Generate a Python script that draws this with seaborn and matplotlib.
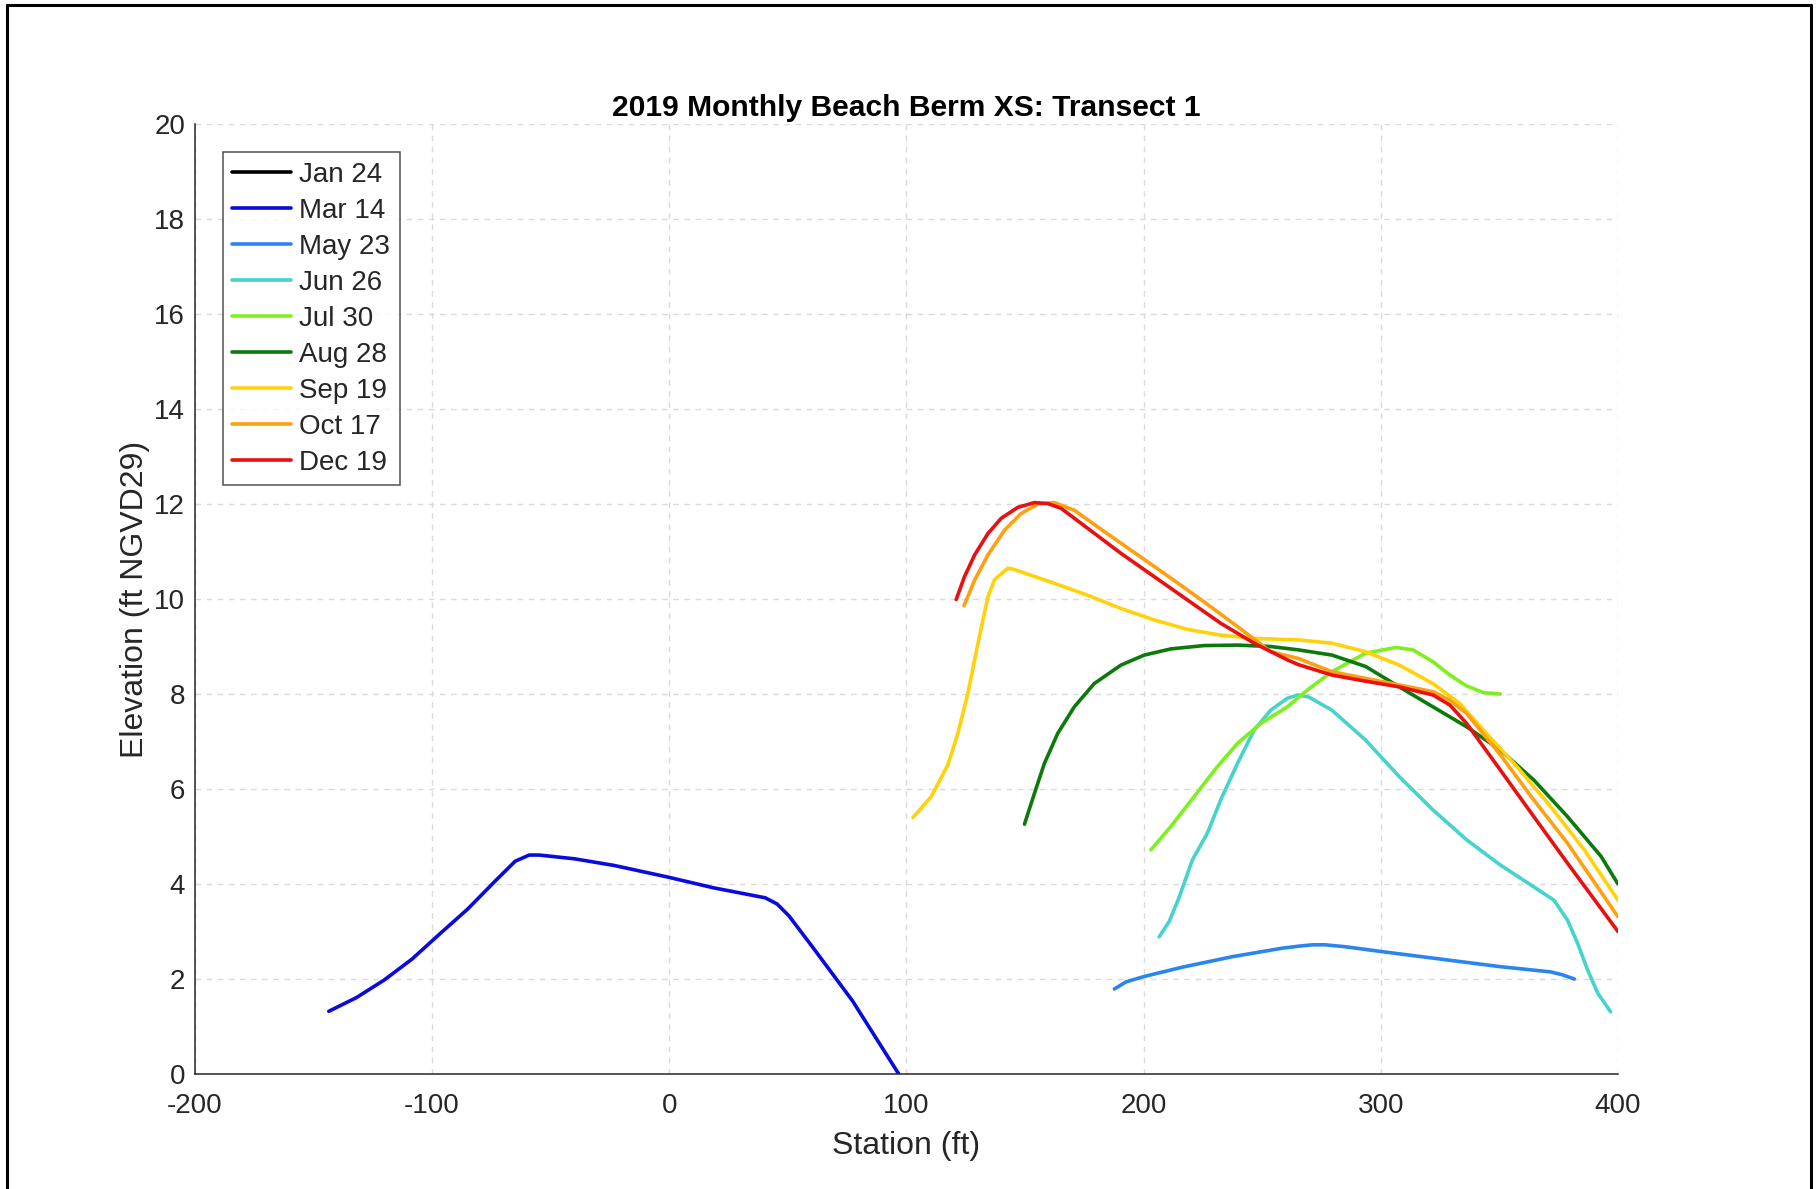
import matplotlib
matplotlib.use("Agg")
import matplotlib.pyplot as plt
import seaborn as sns
import pandas as pd
from matplotlib.lines import Line2D

# survey dates and line colours
dates = ['Jan 24', 'Mar 14', 'May 23', 'Jun 26', 'Jul 30', 'Aug 28', 'Sep 19', 'Oct 17', 'Dec 19']
colors = ['#000000', '#0a0adf', '#2a85f0', '#45d4cc', '#7df01e', '#0b7a0b', '#ffd20a', '#ffa010', '#e81010']

# station (ft) / elevation (ft NGVD29)
jan24_x = []
jan24_y = []
mar14_x = [-143.5, -131.8, -120.1, -108.4, -96.7, -85.0, -73.2, -64.9, -59.0, -54.8, -39.8, -23.1, 0.0,
           18.7, 40.5, 45.5, 50.5, 60.5, 77.3, 96.8]
mar14_y = [1.32, 1.61, 1.98, 2.42, 2.95, 3.47, 4.07, 4.48, 4.61, 4.61, 4.53, 4.39, 4.14,
           3.92, 3.71, 3.58, 3.33, 2.67, 1.54, 0.0]
may23_x = [187.7, 192.6, 200.0, 216.4, 237.4, 258.5, 265.2, 271.1, 276.6, 285.0, 300.0, 322.0, 350.4,
           371.6, 376.5, 381.6]
may23_y = [1.79, 1.94, 2.05, 2.25, 2.47, 2.65, 2.69, 2.72, 2.72, 2.68, 2.58, 2.44, 2.26,
           2.15, 2.09, 2.00]
jun26_x = [206.6, 210.8, 215.0, 220.6, 226.9, 232.5, 239.6, 246.6, 253.6, 260.6, 265.0, 269.5, 279.4,
           293.6, 307.8, 322.0, 336.2, 350.4, 364.5, 373.0, 378.7, 383.0, 387.2, 391.5, 396.9]
jun26_y = [2.89, 3.21, 3.72, 4.51, 5.07, 5.77, 6.54, 7.24, 7.66, 7.91, 7.98, 7.94, 7.66,
           7.03, 6.26, 5.56, 4.93, 4.40, 3.94, 3.66, 3.24, 2.75, 2.19, 1.70, 1.31]
jul30_x = [203.1, 211.5, 221.3, 231.1, 239.6, 249.4, 260.6, 269.0, 279.4, 293.6, 306.4, 313.5, 322.0,
           329.1, 336.2, 343.3, 350.4]
jul30_y = [4.72, 5.21, 5.84, 6.47, 6.96, 7.38, 7.73, 8.08, 8.47, 8.86, 8.98, 8.93, 8.68,
           8.40, 8.17, 8.03, 8.00]
aug28_x = [149.8, 154.0, 158.2, 163.8, 170.8, 179.2, 190.5, 200.3, 211.5, 225.5, 239.6, 253.6, 265.2,
           279.4, 293.6, 307.8, 322.0, 336.2, 350.4, 364.5, 378.7, 392.9, 400.0]
aug28_y = [5.26, 5.91, 6.54, 7.17, 7.73, 8.22, 8.61, 8.82, 8.95, 9.02, 9.03, 9.00, 8.93,
           8.82, 8.58, 8.15, 7.73, 7.31, 6.82, 6.19, 5.42, 4.58, 4.00]
sep19_x = [102.8, 110.5, 117.5, 121.7, 125.9, 130.2, 134.4, 137.2, 142.8, 145.6, 162.4, 176.4, 190.5,
           204.5, 218.5, 232.5, 246.6, 265.2, 279.4, 293.6, 307.8, 322.0, 333.3, 343.3, 357.4, 371.6,
           385.8, 400.0]
sep19_y = [5.40, 5.84, 6.51, 7.17, 8.01, 9.07, 10.05, 10.41, 10.65, 10.62, 10.33, 10.08, 9.80,
           9.56, 9.36, 9.24, 9.17, 9.14, 9.07, 8.89, 8.61, 8.22, 7.80, 7.24, 6.47, 5.63,
           4.72, 3.66]
oct17_x = [124.3, 128.8, 134.4, 141.4, 148.4, 155.4, 162.4, 170.8, 182.0, 197.5, 211.5, 225.5, 239.6,
           253.6, 265.2, 279.4, 293.6, 307.8, 322.0, 329.1, 336.2, 350.4, 364.5, 378.7, 400.0]
oct17_y = [9.86, 10.40, 10.93, 11.45, 11.80, 12.00, 12.03, 11.87, 11.47, 10.93, 10.44, 9.94, 9.42,
           8.89, 8.75, 8.47, 8.33, 8.19, 8.05, 7.87, 7.59, 6.72, 5.77, 4.86, 3.31]
dec19_x = [121.0, 124.5, 128.8, 134.4, 140.0, 147.0, 154.0, 159.6, 165.2, 176.4, 190.5, 204.5, 218.5,
           232.5, 246.6, 260.6, 265.2, 279.4, 293.6, 307.8, 322.0, 329.1, 336.2, 350.4, 364.5, 378.7,
           400.0]
dec19_y = [9.99, 10.47, 10.93, 11.38, 11.70, 11.93, 12.03, 12.01, 11.91, 11.49, 10.96, 10.47, 9.98,
           9.49, 9.07, 8.72, 8.62, 8.40, 8.27, 8.15, 7.98, 7.77, 7.38, 6.40, 5.42, 4.44,
           3.00]

xs = [jan24_x, mar14_x, may23_x, jun26_x, jul30_x, aug28_x, sep19_x, oct17_x, dec19_x]
ys = [jan24_y, mar14_y, may23_y, jun26_y, jul30_y, aug28_y, sep19_y, oct17_y, dec19_y]

x_ticks = [-200, -100, 0, 100, 200, 300, 400]
y_ticks = [0, 2, 4, 6, 8, 10, 12, 14, 16, 18, 20]

sns.set_theme(style='white')
plt.rcParams['font.family'] = ['Liberation Sans', 'DejaVu Sans']
plt.rcParams['axes.unicode_minus'] = False

fig = plt.figure(figsize=(18.2, 11.89), dpi=100)
ax = fig.add_axes([0.107, 0.0967, 0.782, 0.799])

for name, c, x, y in zip(dates, colors, xs, ys):
    if len(x) == 0:
        # no points inside this window, keep it in the legend
        ax.plot([], [], color=c, lw=2.6, label=name)
        continue
    df = pd.DataFrame({'station': x, 'elev': y})
    sns.lineplot(data=df, x='station', y='elev', color=c, lw=2.6, sort=False,
                 estimator=None, label=name, ax=ax)

ax.set_xlim(-200, 400)
ax.set_ylim(0, 20)
ax.set_xticks(x_ticks)
ax.set_yticks(y_ticks)
ax.grid(True, linestyle=(0, (4, 4)), color='#dadada', lw=1.0)
ax.set_axisbelow(True)

for s in ['top', 'right']:
    ax.spines[s].set_visible(False)
for s in ['left', 'bottom']:
    ax.spines[s].set_color('#262626')
    ax.spines[s].set_linewidth(1.1)

ax.tick_params(axis='both', direction='in', length=7, width=1.1, color='#262626',
               labelsize=20, labelcolor='#262626')
ax.tick_params(axis='x', pad=14)
ax.tick_params(axis='y', pad=7)

ax.set_title('2019 Monthly Beach Berm XS: Transect 1', fontsize=21.6, fontweight='bold',
             color='black', pad=5.5)
ax.set_xlabel('Station (ft)', fontsize=23, color='#262626', labelpad=8)
ax.set_ylabel('Elevation (ft NGVD29)', fontsize=23, color='#262626', labelpad=3)

leg = ax.legend(loc='upper left', fontsize=20, frameon=True, fancybox=False,
                borderaxespad=1.0, borderpad=0.35, labelspacing=0.36,
                handlelength=2.1, handletextpad=0.3)
leg.get_frame().set_edgecolor('#262626')
leg.get_frame().set_linewidth(1.1)
for line in leg.get_lines():
    line.set_linewidth(2.6)

# frame around the figure (left, top, right)
for xx, yy in [([0.004, 0.004], [0.0, 0.996]), ([0.004, 0.995], [0.996, 0.996]), ([0.995, 0.995], [0.0, 0.996])]:
    fig.add_artist(Line2D(xx, yy, color='black', lw=2.2, transform=fig.transFigure))

fig.savefig('out.png', dpi=100)
plt.close(fig)
